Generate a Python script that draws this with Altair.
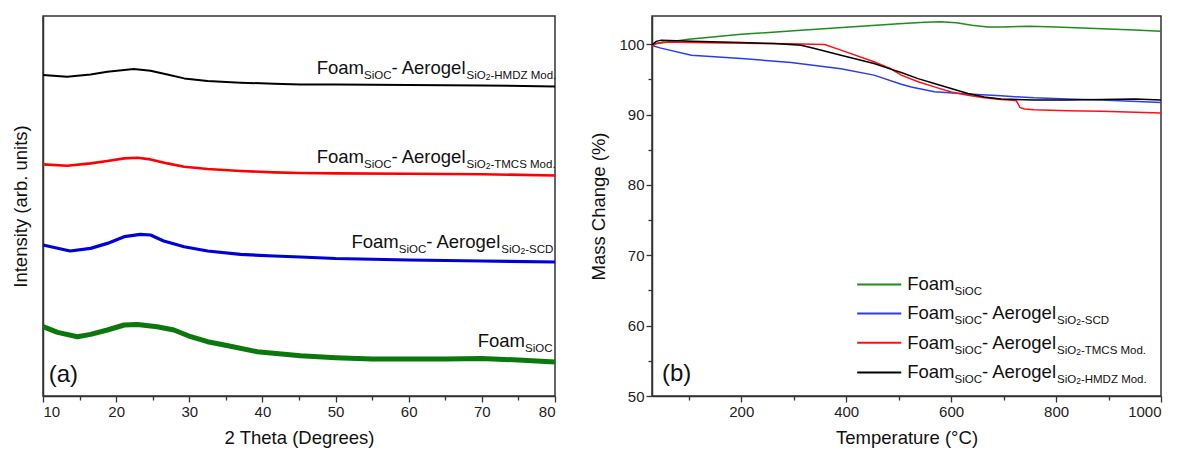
import altair as alt
import pandas as pd

# ---------------- (a) XRD data (arbitrary intensity units) ----------------
xrd_hmdz_x = [10, 13.3, 16.5, 18.8, 22.4, 24.7, 27, 29.3, 32.5, 37, 41.6, 45.2, 50, 60, 70, 80]
xrd_hmdz_y = [321, 319.3, 321.6, 324.3, 327, 325.3, 321.6, 317.6, 315, 313.3, 312.3, 311.6, 311.5, 311, 310.5, 309.6]

xrd_tmcs_x = [10, 13.3, 16.5, 18.8, 21.1, 22.9, 24.7, 27, 29.3, 32.5, 37, 41.6, 45.2, 50, 60, 70, 80]
xrd_tmcs_y = [231.6, 230.3, 232.6, 235, 237.6, 238.3, 236.6, 232.6, 229.3, 227, 225, 223.6, 223, 222.6, 222.3, 221.8, 220.5]

xrd_scd_x = [10, 13.7, 16.5, 18.8, 21.1, 23.3, 24.7, 26.5, 29.3, 32.5, 37, 41.6, 45.2, 50, 60, 70, 80]
xrd_scd_y = [151, 145, 147.6, 152.6, 159.3, 161.6, 161, 155, 149.3, 145, 141.6, 140, 139, 137.5, 136, 135, 134]

xrd_foam_x = [10, 12, 14.7, 16.5, 18.8, 21.1, 22.9, 25.6, 27.9, 30.2, 32.5, 34.8, 39.3, 45.2, 50, 55, 60, 65, 70, 75, 80]
xrd_foam_y = [69.3, 63.6, 59.3, 61.6, 66, 71, 71.6, 69.3, 66, 59.3, 54.3, 51, 44.3, 40.3, 38.3, 37, 37, 37, 37.6, 36, 34]

# ---------------- (b) TGA data ----------------
tga_foam_t = [30, 100, 200, 300, 400, 500, 550, 580, 610, 640, 670, 700, 750, 800, 850, 900, 950, 1000]
tga_foam_m = [100.0, 100.7, 101.4, 101.9, 102.4, 102.9, 103.1, 103.17, 103.05, 102.7, 102.45, 102.45, 102.55, 102.45, 102.3, 102.15, 102.0, 101.85]

tga_scd_t = [30, 45, 105, 200, 295, 390, 453, 505, 524, 568, 632, 695, 758, 822, 886, 1000]
tga_scd_m = [99.8, 99.47, 98.43, 97.96, 97.4, 96.5, 95.6, 94.3, 93.9, 93.25, 92.9, 92.65, 92.37, 92.2, 92.05, 91.7]

tga_tmcs_t = [30, 38, 50, 105, 200, 295, 359, 390, 453, 485, 505, 537, 568, 600, 632, 663, 695, 724, 727, 731, 740, 758, 822, 886, 1000]
tga_tmcs_m = [99.7, 100.1, 100.3, 100.23, 100.14, 100.04, 99.95, 99.15, 97.5, 96.5, 95.6, 94.65, 93.93, 93.2, 92.75, 92.37, 92.13, 91.99, 91.6, 91.0, 90.8, 90.67, 90.53, 90.48, 90.2]

tga_hmdz_t = [30, 38, 48, 105, 200, 263, 314, 340, 390, 453, 485, 505, 537, 568, 600, 632, 663, 695, 758, 822, 886, 950, 1000]
tga_hmdz_m = [99.9, 100.4, 100.57, 100.42, 100.23, 100.09, 99.85, 99.38, 98.43, 97.25, 96.45, 95.97, 95.1, 94.4, 93.7, 92.98, 92.5, 92.2, 92.05, 92.05, 92.13, 92.2, 92.05]

# ---------------- tick values ----------------
xa_major = [10, 20, 30, 40, 50, 60, 70, 80]
xa_minor = [15, 25, 35, 45, 55, 65, 75]
xb_major = [200, 400, 600, 800, 1000]
xb_minor = [100, 300, 500, 700, 900]
yb_major = [50, 60, 70, 80, 90, 100]
yb_minor = [55, 65, 75, 85, 95]

# ---------------- labels ----------------
LBL_FOAM = [("Foam", "m"), ("SiOC", "s")]
LBL_SCD = [("Foam", "m"), ("SiOC", "s"), ("- Aerogel", "m"), ("SiO", "s"), ("2", "t"), ("-SCD", "s")]
LBL_TMCS = [("Foam", "m"), ("SiOC", "s"), ("- Aerogel", "m"), ("SiO", "s"), ("2", "t"), ("-TMCS Mod.", "s")]
LBL_HMDZ = [("Foam", "m"), ("SiOC", "s"), ("- Aerogel", "m"), ("SiO", "s"), ("2", "t"), ("-HMDZ Mod.", "s")]

# label anchors in panel (a): (x, intensity baseline)
xrd_label_anchor = {"hmdz": (47.42, 322.3), "tmcs": (47.42, 233.3), "scd": (52.17, 147.6), "foam": (69.43, 49.3)}
# legend in panel (b)
legend_series = ["foam", "scd", "tmcs", "hmdz"]
legend_m = [65.85, 61.73, 57.57, 53.35]
legend_t1, legend_t2, legend_text_t = 421, 505, 516.3

FONT = "Liberation Sans"
SIZES = {"m": 18.5, "s": 11.5, "t": 8.5}
ARIAL = {"F": 611, "o": 556, "a": 556, "m": 833, "S": 667, "i": 222, "O": 778, "C": 722, "-": 333,
         " ": 278, "A": 667, "e": 556, "r": 333, "g": 556, "l": 222, "2": 556, "H": 722, "M": 833,
         "D": 722, "Z": 611, ".": 278, "d": 556, "T": 611}


def width_px(s, size):
    return sum(ARIAL.get(c, 556) for c in s) / 1000 * size


W_A, H_A = 512, 380
W_B, H_B = 509, 380
XA = (10, 80)
YA = (0, 380)
XB = (30, 1000)
YB = (50, 104)

COL_A = {"hmdz": "#000000", "tmcs": "#ff0000", "scd": "#0000d8", "foam": "#0a780a"}
COL_B = {"foam": "#1e8c1e", "scd": "#2a3cf0", "tmcs": "#ff1010", "hmdz": "#000000"}
SW_A = {"hmdz": 2.0, "tmcs": 2.6, "scd": 3.2, "foam": 5.0}

LABELS = {"foam": LBL_FOAM, "scd": LBL_SCD, "tmcs": LBL_TMCS, "hmdz": LBL_HMDZ}


def piece_rows(pieces, x0, y0, px_per_unit):
    rows = []
    off = 0.0
    for txt, st in pieces:
        rows.append({"x": x0 + off / px_per_unit, "y": y0, "text": txt, "st": st})
        off += width_px(txt, SIZES[st])
    return rows


def text_layers(rows, xscale, yscale, dy_main):
    df = pd.DataFrame(rows)
    layers = []
    shifts = {"m": 0, "s": 5, "t": 6}
    for st in ["m", "s", "t"]:
        sub = df[df["st"] == st]
        layers.append(
            alt.Chart(sub).mark_text(align="left", baseline="alphabetic", font=FONT,
                                     fontSize=SIZES[st], color="#111", dy=dy_main + shifts[st])
            .encode(x=alt.X("x:Q", scale=xscale, axis=None), y=alt.Y("y:Q", scale=yscale, axis=None),
                    text="text:N")
        )
    return layers


def minor_axis(orient, values):
    return alt.Axis(orient=orient, values=values, labels=False, title=None, domain=False,
                    tickSize=4, grid=False)


# ---------------- panel (a) ----------------
xa_scale = alt.Scale(domain=list(XA), nice=False, zero=False)
ya_scale = alt.Scale(domain=list(YA), nice=False, zero=False)

xrd_series = {"hmdz": (xrd_hmdz_x, xrd_hmdz_y), "tmcs": (xrd_tmcs_x, xrd_tmcs_y),
              "scd": (xrd_scd_x, xrd_scd_y), "foam": (xrd_foam_x, xrd_foam_y)}

xa_axis = alt.Axis(orient="bottom", title="2 Theta (Degrees)", values=xa_major, tickSize=6, grid=False,
                   format="d")
ya_axis = alt.Axis(orient="left", title="Intensity (arb. units)", labels=False, ticks=False, grid=False,
                   titlePadding=13)

layers_a = []
first = True
for key in ["foam", "scd", "tmcs", "hmdz"]:
    xs, ys = xrd_series[key]
    df = pd.DataFrame({"x": xs, "y": ys})
    layers_a.append(
        alt.Chart(df).mark_line(color=COL_A[key], strokeWidth=SW_A[key], strokeJoin="round")
        .encode(x=alt.X("x:Q", scale=xa_scale, axis=xa_axis if first else None),
                y=alt.Y("y:Q", scale=ya_scale, axis=ya_axis if first else None),
                order="x:Q")
    )
    first = False

# minor tick layer (invisible mark, axis only)
layers_a.append(
    alt.Chart(pd.DataFrame({"x": xa_minor, "y": [0] * len(xa_minor)})).mark_point(opacity=0)
    .encode(x=alt.X("x:Q", scale=xa_scale, axis=minor_axis("bottom", xa_minor)),
            y=alt.Y("y:Q", scale=ya_scale, axis=None))
)

rows_a = []
for key, (ax, ay) in xrd_label_anchor.items():
    rows_a += piece_rows(LABELS[key], ax, ay, W_A / (XA[1] - XA[0]))
layers_a += text_layers(rows_a, xa_scale, ya_scale, 0)

panel_a_df = pd.DataFrame({"x": [10.78], "y": [14.3], "text": ["(a)"]})
layers_a.append(
    alt.Chart(panel_a_df).mark_text(align="left", baseline="alphabetic", font=FONT, fontSize=24, color="#111")
    .encode(x=alt.X("x:Q", scale=xa_scale, axis=None), y=alt.Y("y:Q", scale=ya_scale, axis=None), text="text:N")
)

left = alt.layer(*layers_a).resolve_axis(x="independent", y="independent").properties(width=W_A, height=H_A)

# ---------------- panel (b) ----------------
xb_scale = alt.Scale(domain=list(XB), nice=False, zero=False)
yb_scale = alt.Scale(domain=list(YB), nice=False, zero=False)

tga_series = {"foam": (tga_foam_t, tga_foam_m), "scd": (tga_scd_t, tga_scd_m),
              "tmcs": (tga_tmcs_t, tga_tmcs_m), "hmdz": (tga_hmdz_t, tga_hmdz_m)}

xb_axis = alt.Axis(orient="bottom", title="Temperature (°C)", values=xb_major, tickSize=6, grid=False,
                   format="d")
yb_axis = alt.Axis(orient="left", title="Mass Change (%)", values=yb_major, tickSize=6, grid=False,
                   titlePadding=10, format="d")

layers_b = []
first = True
for key in ["foam", "scd", "tmcs", "hmdz"]:
    ts, ms = tga_series[key]
    df = pd.DataFrame({"x": ts, "y": ms})
    layers_b.append(
        alt.Chart(df).mark_line(color=COL_B[key], strokeWidth=1.5)
        .encode(x=alt.X("x:Q", scale=xb_scale, axis=xb_axis if first else None),
                y=alt.Y("y:Q", scale=yb_scale, axis=yb_axis if first else None),
                order="x:Q")
    )
    first = False

layers_b.append(
    alt.Chart(pd.DataFrame({"x": xb_minor, "y": yb_minor})).mark_point(opacity=0)
    .encode(x=alt.X("x:Q", scale=xb_scale, axis=minor_axis("bottom", xb_minor)),
            y=alt.Y("y:Q", scale=yb_scale, axis=minor_axis("left", yb_minor)))
)

leg_df = pd.DataFrame({"series": legend_series, "t1": [legend_t1] * 4, "t2": [legend_t2] * 4, "m": legend_m})
layers_b.append(
    alt.Chart(leg_df).mark_rule(strokeWidth=2)
    .encode(x=alt.X("t1:Q", scale=xb_scale, axis=None), x2="t2:Q", y=alt.Y("m:Q", scale=yb_scale, axis=None),
            color=alt.Color("series:N", scale=alt.Scale(domain=legend_series,
                                                        range=[COL_B[k] for k in legend_series]), legend=None))
)

rows_b = []
for key, m in zip(legend_series, legend_m):
    rows_b += piece_rows(LABELS[key], legend_text_t, m, W_B / (XB[1] - XB[0]))
layers_b += text_layers(rows_b, xb_scale, yb_scale, 6)

panel_b_df = pd.DataFrame({"x": [49], "y": [52.17], "text": ["(b)"]})
layers_b.append(
    alt.Chart(panel_b_df).mark_text(align="left", baseline="alphabetic", font=FONT, fontSize=24, color="#111")
    .encode(x=alt.X("x:Q", scale=xb_scale, axis=None), y=alt.Y("y:Q", scale=yb_scale, axis=None), text="text:N")
)

right = alt.layer(*layers_b).resolve_axis(x="independent", y="independent").properties(width=W_B, height=H_B)

chart = (
    alt.hconcat(left, right, spacing=97, bounds="flush")
    .properties(padding={"left": 10, "top": 15, "right": 10, "bottom": 0}, background="white")
    .configure(font=FONT)
    .configure_view(stroke="#333333", strokeWidth=1.5)
    .configure_axis(domainColor="#333333", domainWidth=1.5, tickColor="#333333", tickWidth=1.3,
                    labelFont=FONT, labelFontSize=15, labelColor="#222222", labelPadding=2,
                    titleFont=FONT, titleFontSize=18.5, titleFontWeight="normal", titleColor="#111111",
                    titlePadding=9)
)

chart.save("out.html", embed_options={"renderer": "svg", "actions": False})
